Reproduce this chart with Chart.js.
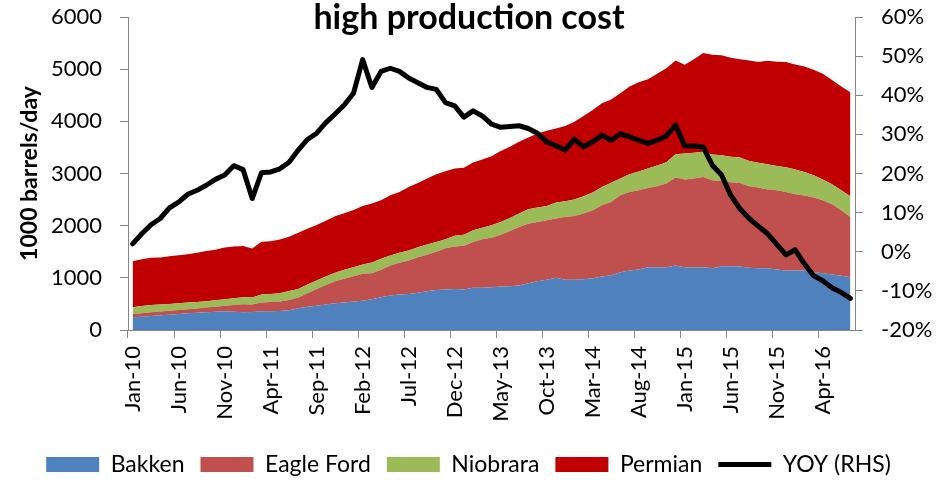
<!DOCTYPE html>
<html>
<head>
<meta charset="utf-8">
<title>high production cost</title>
<script src="https://cdn.jsdelivr.net/npm/chart.js@4/dist/chart.umd.min.js"></script>
<style>
  html, body { margin: 0; padding: 0; background: #fff; }
  #wrap { width: 937px; height: 480px; }
</style>
</head>
<body>
<div id="wrap"><canvas id="prodChart" width="937" height="480"></canvas></div>
<script>
// meses (Jan-10 .. Jul-16)
var months = [
  'Jan-10','Feb-10','Mar-10','Apr-10','May-10','Jun-10','Jul-10','Aug-10','Sep-10','Oct-10','Nov-10','Dec-10',
  'Jan-11','Feb-11','Mar-11','Apr-11','May-11','Jun-11','Jul-11','Aug-11','Sep-11','Oct-11','Nov-11','Dec-11',
  'Jan-12','Feb-12','Mar-12','Apr-12','May-12','Jun-12','Jul-12','Aug-12','Sep-12','Oct-12','Nov-12','Dec-12',
  'Jan-13','Feb-13','Mar-13','Apr-13','May-13','Jun-13','Jul-13','Aug-13','Sep-13','Oct-13','Nov-13','Dec-13',
  'Jan-14','Feb-14','Mar-14','Apr-14','May-14','Jun-14','Jul-14','Aug-14','Sep-14','Oct-14','Nov-14','Dec-14',
  'Jan-15','Feb-15','Mar-15','Apr-15','May-15','Jun-15','Jul-15','Aug-15','Sep-15','Oct-15','Nov-15','Dec-15',
  'Jan-16','Feb-16','Mar-16','Apr-16','May-16','Jun-16','Jul-16'
];

// 1000 barrels/day
var bakken = [
  243,256,269,282,294,307,320,330,339,348,358,349,
  339,345,358,361,364,377,416,448,467,487,512,525,
  544,563,590,627,660,679,692,712,742,769,775,788,
  775,808,808,819,833,839,852,897,935,962,1000,962,
  962,974,993,1025,1050,1108,1140,1160,1204,1204,1204,1237,
  1204,1198,1204,1185,1217,1224,1217,1192,1185,1185,1160,1140,
  1140,1140,1108,1089,1063,1038,1012
];
var eagleFord = [
  65,67,70,73,77,77,76,82,90,100,109,131,
  153,142,167,174,180,200,205,256,321,378,423,456,
  487,514,500,527,577,609,641,684,700,731,794,814,
  840,877,934,950,994,1057,1121,1141,1134,1140,1135,1203,
  1223,1257,1301,1365,1404,1475,1507,1519,1520,1552,1603,1685,
  1681,1705,1731,1686,1641,1609,1603,1564,1546,1507,1519,1507,
  1462,1437,1430,1398,1347,1256,1153
];
var niobrara = [
  127,135,141,135,129,128,129,126,121,121,121,128,
  135,134,154,157,160,173,167,167,160,160,161,173,
  173,179,205,211,192,193,192,192,198,185,173,206,
  212,225,220,237,242,250,258,275,277,275,307,302,
  315,332,341,353,368,320,340,359,372,398,410,449,
  499,493,480,494,494,486,488,486,473,487,467,474,
  475,454,429,398,384,385,398
];
var permian = [
  884,900,905,900,916,923,929,943,962,969,995,994,
  981,942,1013,1008,1033,1038,1077,1071,1064,1071,1083,1083,
  1096,1121,1130,1122,1154,1166,1218,1232,1263,1302,1302,1288,
  1281,1301,1307,1327,1360,1366,1377,1379,1423,1442,1423,1443,
  1492,1539,1582,1603,1598,1635,1679,1712,1712,1756,1802,1795,
  1699,1796,1893,1910,1917,1898,1884,1924,1931,1981,1995,2014,
  2012,2019,2020,2025,2000,1987,1995
];
// YOY (%), eje derecho
var yoy = [
  2.0,4.6,6.9,8.5,11.2,12.7,14.7,15.7,17.0,18.5,19.6,22.0,
  21.0,13.6,20.2,20.4,21.2,22.9,26.0,28.7,30.3,33.0,35.2,37.5,
  40.5,49.1,42.0,46.1,46.9,46.1,44.4,43.2,42.0,41.5,38.1,37.3,
  34.4,36.0,34.7,32.6,31.8,32.0,32.2,31.5,30.3,28.1,27.1,26.0,
  28.8,26.8,28.1,29.8,28.5,30.1,29.4,28.5,27.7,28.5,29.6,32.4,
  27.0,27.0,26.8,22.1,19.6,14.4,11.0,8.5,6.5,4.6,1.9,-0.8,
  0.5,-3.1,-6.1,-7.4,-9.2,-10.4,-11.9
];

var FONT = 'Lato';
var axisGray = '#868686';

// Titulo dibujado encima del area del grafico
var titlePlugin = {
    id: 'topTitle',
    afterDraw: function (chart) {
        var ctx = chart.ctx;
        ctx.save();
        ctx.font = 'bold 34px ' + FONT;
        ctx.fillStyle = '#000';
        ctx.textAlign = 'center';
        ctx.textBaseline = 'alphabetic';
        ctx.fillText('high production cost', 469, 29);
        ctx.restore();
    }
};

function areaSet(label, data, color, fill) {
    return {
        label: label,
        data: data,
        backgroundColor: color,
        borderColor: color,
        borderWidth: 0,
        pointRadius: 0,
        tension: 0,
        fill: fill,
        yAxisID: 'y',
        order: 1
    };
}

// ancho fijo del eje y sin el relleno extra arriba/abajo
function fixVertical(width) {
    return function (scale) {
        scale.width = width;
        scale.paddingTop = 10;
        scale.paddingBottom = 10;
    };
}

var ctxProd = document.getElementById('prodChart').getContext('2d');
var prodChart = new Chart(ctxProd, {
    type: 'line',
    data: {
        labels: months,
        datasets: [
            areaSet('Bakken', bakken, '#4F81BD', 'origin'),
            areaSet('Eagle Ford', eagleFord, '#C0504D', '-1'),
            areaSet('Niobrara', niobrara, '#9BBB59', '-1'),
            areaSet('Permian', permian, '#C00000', '-1'),
            {
                label: 'YOY (RHS)',
                data: yoy,
                borderColor: '#000',
                backgroundColor: '#000',
                borderWidth: 5,
                pointRadius: 0,
                tension: 0,
                fill: false,
                borderJoinStyle: 'round',
                borderCapStyle: 'round',
                yAxisID: 'y1',
                order: 0
            }
        ]
    },
    options: {
        responsive: false,
        animation: false,
        layout: { padding: { top: 17, left: 0, right: 0, bottom: -6 } },
        plugins: {
            tooltip: { enabled: false },
            legend: {
                position: 'bottom',
                labels: {
                    usePointStyle: true,
                    pointStyleWidth: 53,
                    boxHeight: 15,
                    padding: 16,
                    color: '#000',
                    font: { family: FONT, size: 23 },
                    sort: function (a, b) { return a.datasetIndex - b.datasetIndex; },
                    generateLabels: function (chart) {
                        return chart.data.datasets.map(function (ds, i) {
                            var isLine = i === 4;
                            return {
                                text: ds.label,
                                fillStyle: ds.backgroundColor,
                                strokeStyle: '#000',
                                lineWidth: isLine ? 5 : 0,
                                pointStyle: isLine ? 'line' : 'rect',
                                fontColor: '#000',
                                hidden: false,
                                datasetIndex: i
                            };
                        });
                    }
                }
            }
        },
        scales: {
            x: {
                type: 'category',
                offset: true,
                grid: {
                    offset: true,
                    drawOnChartArea: false,
                    tickLength: 8,
                    tickColor: function (c) { return c.index % 5 === 0 ? axisGray : 'rgba(0,0,0,0)'; }
                },
                border: { color: axisGray, width: 1 },
                ticks: {
                    autoSkip: false,
                    minRotation: 90,
                    maxRotation: 90,
                    padding: 8,
                    color: '#000',
                    font: { family: FONT, size: 22 },
                    callback: function (val, index) {
                        return index % 5 === 0 ? this.getLabelForValue(val) : '';
                    }
                },
                afterFit: function (scale) { scale.height = 107; }
            },
            y: {
                position: 'left',
                stacked: true,
                min: 0,
                max: 6000,
                grid: { drawOnChartArea: false, tickLength: 8, tickColor: axisGray },
                border: { color: axisGray, width: 1 },
                ticks: {
                    stepSize: 1000,
                    padding: 18,
                    color: '#000',
                    font: { family: FONT, size: 22 },
                    callback: function (v) { return String(v); }
                },
                title: {
                    display: true,
                    text: '1000 barrels/day',
                    color: '#000',
                    font: { family: FONT, size: 23, weight: 'bold' },
                    padding: { top: 16, bottom: 0 }
                },
                afterFit: fixVertical(128)
            },
            y1: {
                position: 'right',
                min: -20,
                max: 60,
                grid: { drawOnChartArea: false, tickLength: 8, tickColor: axisGray },
                border: { color: axisGray, width: 1 },
                ticks: {
                    stepSize: 10,
                    padding: 18,
                    color: '#000',
                    font: { family: FONT, size: 22 },
                    callback: function (v) { return v + '%'; }
                },
                afterFit: fixVertical(82)
            }
        }
    },
    plugins: [titlePlugin]
});
</script>
</body>
</html>
